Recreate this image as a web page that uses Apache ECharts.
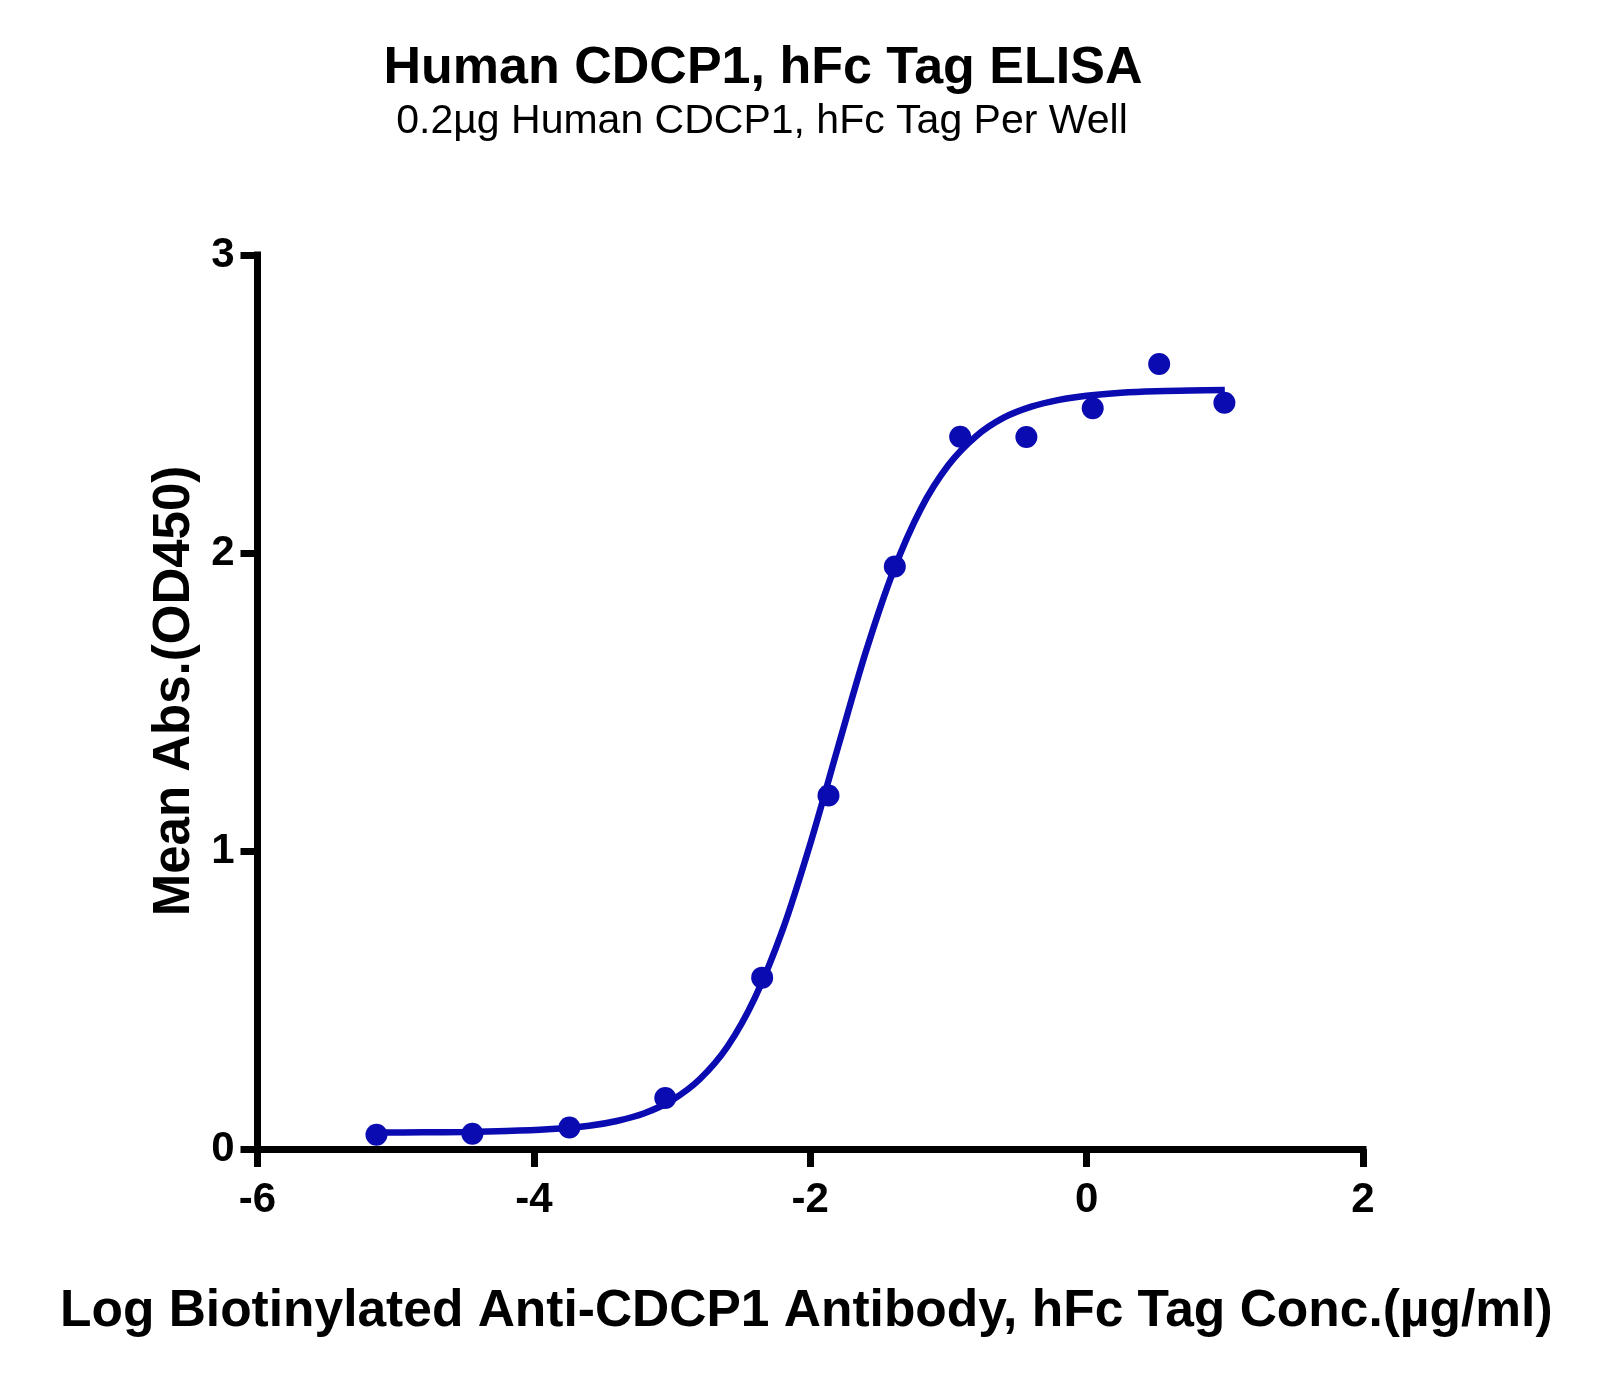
<!DOCTYPE html>
<html>
<head>
<meta charset="utf-8">
<script src="https://cdn.jsdelivr.net/npm/echarts@6/dist/echarts.min.js"></script>
<style>
html,body{margin:0;padding:0;background:#fff;}
#chart{width:1600px;height:1377px;}
</style>
</head>
<body>
<div id="chart"></div>
<script>
// Measured data points (log concentration, mean absorbance)
const pointX = [-5.139, -4.445, -3.743, -3.049, -2.348, -1.868, -1.388, -0.915, -0.436, 0.044, 0.525, 0.997];
const pointY = [0.048, 0.051, 0.072, 0.171, 0.575, 1.186, 1.955, 2.390, 2.389, 2.486, 2.634, 2.504];

// Fitted curve
const curveX = [-5.14, -4.8, -4.5, -4.2, -3.9, -3.6, -3.4, -3.2, -3.0, -2.8, -2.6, -2.4, -2.2, -2.0, -1.8, -1.6, -1.4, -1.2, -1.0, -0.8, -0.6, -0.4, -0.2, 0.0, 0.25, 0.5, 0.75, 1.0];
const curveY = [0.055, 0.056, 0.057, 0.060, 0.066, 0.078, 0.094, 0.120, 0.164, 0.234, 0.343, 0.508, 0.735, 1.024, 1.347, 1.665, 1.938, 2.148, 2.295, 2.392, 2.454, 2.491, 2.514, 2.528, 2.538, 2.543, 2.545, 2.547];

const xTicks = [-6, -4, -2, 0, 2];
const yTicks = [0, 1, 2, 3];

const titleText = 'Human CDCP1, hFc Tag ELISA';
const subtitleText = '0.2\u00b5g Human CDCP1, hFc Tag Per Well';
const xName = 'Log Biotinylated Anti-CDCP1 Antibody, hFc Tag Conc.(\u00b5g/ml)';
const yName = 'Mean Abs.(OD450)';

const FONT = '"Liberation Sans", Arial, Helvetica, sans-serif';
const BLUE = '#0b0bb2';

const chart = echarts.init(document.getElementById('chart'), null, {renderer: 'canvas'});
const axisStyle = {color: '#000', width: 7, cap: 'square'};
chart.setOption({
  backgroundColor: '#fff',
  animation: false,
  title: [
    {text: titleText, left: 758, top: 38, textAlign: 'center',
     textStyle: {fontFamily: FONT, fontSize: 52, fontWeight: 'bold', color: '#000'}},
    {text: subtitleText, left: 757, top: 96, textAlign: 'center',
     textStyle: {fontFamily: FONT, fontSize: 41, fontWeight: 'normal', color: '#000'}}
  ],
  grid: {left: 257.5, right: 237, top: 255, bottom: 228, containLabel: false},
  xAxis: {
    type: 'value', min: xTicks[0], max: xTicks[xTicks.length - 1], interval: 2,
    name: xName, nameLocation: 'middle', nameGap: 137,
    nameTextStyle: {fontFamily: FONT, fontSize: 51.5, fontWeight: 'bold', color: '#000', padding: [0, 8, 0, 0]},
    axisLine: {show: true, onZero: false, lineStyle: axisStyle},
    axisTick: {show: true, inside: false, length: 18, lineStyle: {color: '#000', width: 7}},
    axisLabel: {show: true, margin: 30, fontFamily: FONT, fontSize: 42, fontWeight: 'bold', color: '#000',
      formatter: v => xTicks.includes(v) ? String(v) : ''},
    splitLine: {show: false}
  },
  yAxis: {
    type: 'value', min: yTicks[0], max: yTicks[yTicks.length - 1], interval: 1,
    name: yName, nameLocation: 'middle', nameGap: 44, nameRotate: 90,
    nameTextStyle: {fontFamily: FONT, fontSize: 51, fontWeight: 'bold', color: '#000', padding: [0, 0, 0, 22]},
    axisLine: {show: true, onZero: false, lineStyle: axisStyle},
    axisTick: {show: true, inside: false, length: 17, lineStyle: {color: '#000', width: 7}},
    axisLabel: {show: true, margin: 23, fontFamily: FONT, fontSize: 42, fontWeight: 'bold', color: '#000',
      formatter: v => yTicks.includes(v) ? String(v) : ''},
    splitLine: {show: false}
  },
  series: [
    {
      type: 'line', name: 'fit', smooth: 0.3, showSymbol: false, symbol: 'none',
      data: curveX.map((x, i) => [x, curveY[i]]),
      lineStyle: {color: BLUE, width: 6.5}, z: 2
    },
    {
      type: 'scatter', name: 'data', symbol: 'circle', symbolSize: 22,
      data: pointX.map((x, i) => [x, pointY[i]]),
      itemStyle: {color: BLUE, opacity: 1}, z: 3
    }
  ]
});
</script>
</body>
</html>
